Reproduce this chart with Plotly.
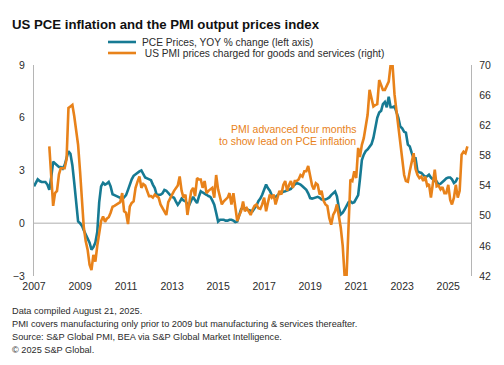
import pandas as pd
import plotly.graph_objects as go

# ---------------- data ----------------
pce_start = "2007-01-01"
pce_yoy = [
    2.1, 2.3, 2.5, 2.4, 2.35, 2.35, 2.35, 2.2, 1.9, 2.6, 3.5, 3.4,      # 2007
    3.3, 3.2, 3.2, 3.1, 3.3, 3.7, 4.1, 3.95, 3.3, 2.3, 1.1, 0.1,        # 2008
    0.0, -0.15, -0.4, -0.65, -0.85, -1.1, -1.5, -1.35, -1.1, -0.5, 1.2, 2.1,  # 2009
    2.3, 2.2, 2.25, 2.35, 2.1, 1.65, 1.6, 1.55, 1.5, 1.45, 1.35, 1.45,  # 2010
    1.6, 1.9, 2.2, 2.5, 2.7, 2.8, 2.85, 2.95, 3.0, 2.8, 2.6, 2.55,      # 2011
    2.5, 2.45, 2.2, 2.0, 1.62, 1.6, 1.62, 1.7, 1.9, 1.85, 1.7, 1.6,     # 2012
    1.5, 1.45, 1.25, 1.05, 1.2, 1.4, 1.3, 1.25, 1.1, 1.05, 1.3, 1.5,    # 2013
    1.3, 1.15, 1.5, 1.82, 1.75, 1.7, 1.62, 1.55, 1.5, 1.3, 1.05, 0.6,   # 2014
    0.1, 0.2, 0.2, 0.2, 0.15, 0.15, 0.2, 0.2, 0.15, 0.07, 0.1, 0.5,     # 2015
    0.8, 0.87, 0.85, 0.78, 0.75, 0.7, 0.68, 0.85, 1.0, 1.25, 1.4, 1.62, # 2016
    1.9, 2.2, 2.0, 1.85, 1.6, 1.47, 1.5, 1.62, 1.7, 1.72, 1.8, 1.82,    # 2017
    1.85, 1.9, 1.95, 2.1, 2.2, 2.29, 2.25, 2.2, 2.1, 2.0, 1.9, 1.7,     # 2018
    1.43, 1.4, 1.43, 1.5, 1.5, 1.45, 1.35, 1.35, 1.35, 1.4, 1.47, 1.6,  # 2019
    1.72, 1.8, 1.53, 0.87, 0.5, 0.6, 0.78, 0.96, 1.2, 1.25, 1.15, 1.2,  # 2020
    1.43, 1.6, 2.5, 3.6, 3.9, 4.1, 4.2, 4.37, 4.5, 4.85, 5.5, 6.0,      # 2021
    6.3, 6.4, 6.78, 6.9, 6.6, 7.2, 6.6, 6.6, 6.65, 6.37, 6.0, 5.5,      # 2022
    5.4, 5.2, 5.15, 4.47, 4.37, 4.0, 3.7, 3.7, 2.95, 2.9, 2.86, 2.75,   # 2023
    2.65, 2.67, 2.76, 2.6, 2.48, 2.4, 2.38, 2.2, 2.25, 2.38, 2.45, 2.55, # 2024
    2.6, 2.6, 2.5, 2.29, 2.38, 2.6,                                      # 2025
]

# PMI prices charged index, by survey month (starts May 2007), plotted 4 months ahead
pmi_start = "2007-05-01"
pmi_lead_months = 4
pmi_prices = [
    59.2, 54.5, 51.3, 53.0, 53.3, 55.5, 56.3, 56.3,
    56.3, 57.5, 64.3, 64.5, 64.7, 63.2, 61.0, 59.4, 55.9, 52.0, 48.5, 46.6,
    45.5, 43.5, 42.8, 44.8, 43.9, 46.0, 48.0, 49.3, 49.9, 49.2, 49.6, 49.8,
    50.4, 51.2, 51.3, 51.5, 51.7, 51.8, 53.0, 50.6, 50.4, 48.9, 51.2, 51.7,
    51.9, 53.7, 54.5, 55.2, 53.7, 54.2, 54.0, 53.3, 52.6, 52.6, 52.4, 52.8,
    52.6, 52.4, 51.5, 51.0, 50.4, 50.1, 51.8, 52.2, 52.8, 53.3, 53.7, 54.0,
    55.2, 53.3, 52.4, 52.8, 50.1, 52.0, 53.3, 53.7, 52.6, 55.0, 54.8, 54.8,
    53.7, 54.6, 53.0, 53.3, 53.5, 53.7, 52.4, 55.4, 53.5, 52.4, 51.5, 51.9,
    52.2, 52.4, 53.0, 51.5, 53.0, 51.0, 49.3, 50.0, 50.6, 51.9, 50.6, 51.0,
    50.6, 50.1, 50.8, 51.3, 51.5, 51.0, 50.9, 51.5, 52.4, 50.6, 51.7, 52.8,
    52.4, 52.8, 51.5, 52.3, 53.3, 52.8, 54.1, 54.6, 53.3, 54.1, 54.6, 53.7,
    54.6, 54.6, 54.8, 55.4, 55.2, 55.9, 55.9, 56.6, 55.0, 54.0, 53.5, 54.3,
    54.1, 52.8, 53.3, 52.0, 51.5, 51.3, 49.7, 48.8, 50.1, 50.6, 51.5, 50.1,
    48.4, 46.0, 42.0, 42.0, 50.0, 54.8, 54.6, 55.9, 55.0, 59.0, 57.8, 59.4,
    60.3, 62.1, 63.4, 66.7, 65.4, 64.5, 64.7, 64.8, 68.0, 67.4, 66.7, 66.7,
    67.2, 67.8, 70.0, 70.0, 66.1, 63.9, 62.1, 59.4, 57.7, 55.4, 54.6, 54.5,
    55.9, 57.2, 58.3, 56.2, 55.4, 55.0, 55.2, 54.6, 55.2, 54.0, 54.2, 52.4,
    54.3, 56.1, 53.9, 54.0, 53.5, 53.8, 53.0, 53.0, 54.1, 52.1, 51.5, 52.4,
    54.1, 52.4, 53.3, 58.1, 58.5, 58.3, 59.2,
]

left_ticks = [-3, 0, 3, 6, 9]
right_ticks = [42, 46, 50, 54, 58, 62, 66, 70]
year_ticks = [2007, 2009, 2011, 2013, 2015, 2017, 2019, 2021, 2023, 2025]

title = "<b>US PCE inflation and the PMI output prices index</b>"
pce_name = "PCE Prices, YOY % change (left axis)"
pmi_name = " US PMI prices charged for goods and services (right)"
note_lines = ["PMI advanced four months", "to show lead on PCE inflation"]
footnotes = [
    "Data compiled August 21, 2025.",
    "PMI covers manufacturing only prior to 2009 but manufacturing & services thereafter.",
    "Source: S&P Global PMI, BEA via S&P Global Market Intelligence.",
    "© 2025 S&P Global.",
]

# ---------------- build ----------------
TEAL = "#167a93"
ORANGE = "#e8821a"
FONT = "Liberation Sans, Arial, sans-serif"
TXT = "#2b2b2b"

pce_dates = pd.date_range(pce_start, periods=len(pce_yoy), freq="MS")
pmi_dates = pd.date_range(pmi_start, periods=len(pmi_prices), freq="MS") + pd.DateOffset(months=pmi_lead_months)

W, H = 504, 365
L, R, T, B = 26, 41, 57, 97
pw, ph = W - L - R, H - T - B


def px_x(x):
    return (x - L) / pw


def px_y(y):
    return 1 - (y - T) / ph


fig = go.Figure()
fig.add_trace(go.Scatter(x=pce_dates, y=pce_yoy, name=pce_name, mode="lines",
                         line=dict(color=TEAL, width=2.6), yaxis="y", showlegend=False))
fig.add_trace(go.Scatter(x=pmi_dates, y=pmi_prices, name=pmi_name, mode="lines",
                         line=dict(color=ORANGE, width=2.6), yaxis="y2", showlegend=False))

fig.update_layout(
    width=W, height=H,
    margin=dict(l=L, r=R, t=T, b=B, pad=0, autoexpand=False),
    paper_bgcolor="white", plot_bgcolor="white",
    font=dict(family=FONT, size=10.5, color=TXT),
    showlegend=False,
    xaxis=dict(type="date", automargin=False,
               range=["2007-01-01", "2025-12-28"],
               tickmode="array",
               tickvals=[f"{y}-01-01" for y in year_ticks],
               ticktext=[str(y) for y in year_ticks],
               showgrid=False, zeroline=False, showline=False,
               ticks="", ticklabelstandoff=2,
               tickfont=dict(size=10.5, color=TXT)),
    yaxis=dict(range=[-3, 9], tickmode="array", tickvals=left_ticks, automargin=False,
               showgrid=False, zeroline=False, showline=True,
               linecolor="#b5b5b5", linewidth=1.2,
               ticks="outside", ticklen=6, tickcolor="rgba(0,0,0,0)",
               tickfont=dict(size=10.5, color=TXT)),
    yaxis2=dict(range=[42, 70], tickmode="array", tickvals=right_ticks, automargin=False,
                overlaying="y", side="right",
                showgrid=False, zeroline=False, showline=True,
                linecolor="#b5b5b5", linewidth=1.2,
                ticks="outside", ticklen=5, tickcolor="rgba(0,0,0,0)",
                tickfont=dict(size=10.5, color=TXT)),
)

# zero line on the left axis
fig.add_shape(type="line", xref="paper", x0=0, x1=1, yref="y", y0=0, y1=0,
              line=dict(color="#c9c9c9", width=1.5), layer="below")

# legend (drawn as key lines + labels so rows sit close together)
for i, (name, col) in enumerate([(pce_name, TEAL), (pmi_name, ORANGE)]):
    yy = 34 + 11 * i
    fig.add_shape(type="line", xref="paper", yref="paper",
                  x0=px_x(100), x1=px_x(128), y0=px_y(yy), y1=px_y(yy),
                  line=dict(color=col, width=2.6))
    fig.add_annotation(text=name, xref="paper", yref="paper",
                       x=px_x(132), y=px_y(yy), xanchor="left", yanchor="middle",
                       showarrow=False, font=dict(family=FONT, size=10.2, color=TXT))

fig.add_annotation(text=title, xref="paper", yref="paper",
                   x=px_x(2), y=px_y(16),
                   xanchor="left", yanchor="middle", showarrow=False,
                   font=dict(family=FONT, size=13.2, color="#111111"))

# note in orange
for i, line in enumerate(note_lines):
    yy = 121 + 12 * i
    fig.add_annotation(text=line, xref="paper", yref="paper",
                       x=px_x(350), y=px_y(yy),
                       xanchor="right", yanchor="middle", showarrow=False,
                       font=dict(family=FONT, size=10.5, color=ORANGE))

for i, line in enumerate(footnotes):
    yy = 303 + 13 * i
    fig.add_annotation(text=line, xref="paper", yref="paper",
                       x=px_x(2), y=px_y(yy),
                       xanchor="left", yanchor="middle", showarrow=False,
                       font=dict(family=FONT, size=9.2, color=TXT))

fig.write_html("out.html")
